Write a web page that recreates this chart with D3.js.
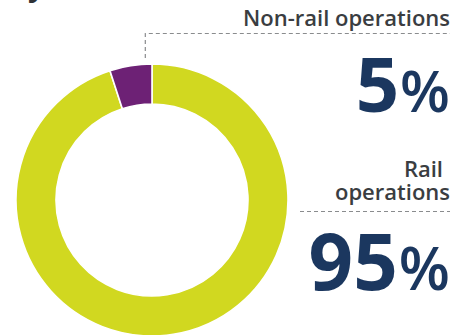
<!DOCTYPE html>
<html>
<head>
<meta charset="utf-8">
<script src="https://cdn.jsdelivr.net/npm/d3@7/dist/d3.min.js"></script>
<style>
  html, body { margin: 0; padding: 0; background: #fff; }
  svg { display: block; }
  text { font-family: "Open Sans", "Noto Sans", sans-serif; }
</style>
</head>
<body>
<svg id="chart" width="455" height="335"></svg>
<script>
// Share of activity by segment (percent)
const segments = ["Rail operations", "Non-rail operations"];
const shares = [95, 5];
const colors = ["#d1d820", "#6d2175"];
const labelLines = [["Rail", "operations"], ["Non-rail operations"]];

const W = 455, H = 335;
const svg = d3.select("#chart");

const cx = 152, cy = 200, outerR = 136, innerR = 96;

const pie = d3.pie().sort(null).value(d => d).startAngle(0).endAngle(2 * Math.PI);
const arcs = pie(shares);
const arc = d3.arc().innerRadius(innerR).outerRadius(outerR);

const g = svg.append("g").attr("transform", `translate(${cx},${cy})`);
g.selectAll("path")
  .data(arcs)
  .join("path")
  .attr("d", arc)
  .attr("fill", (d, i) => colors[i])
  .attr("stroke", "#fff")
  .attr("stroke-width", 1.6);

// Tail of the heading line above the chart
svg.append("text")
  .attr("x", 28).attr("y", -4)
  .attr("font-size", 30).attr("font-weight", 700)
  .attr("fill", "#2f3236")
  .text("y");

const rightX = 450;
const labelColor = "#3a3d41";
const numColor = "#1b375f";
const dash = "4,3";

// Non-rail: leader from the slice up to the label rule
const small = arcs[1];
const leadA = small.endAngle - 0.15 * (small.endAngle - small.startAngle);
const leadX = cx + (outerR + 6) * Math.sin(leadA);
const ruleY1 = 33.5;
svg.append("path")
  .attr("d", `M${leadX},${cy - outerR - 6}V${ruleY1}H${rightX}`)
  .attr("fill", "none")
  .attr("stroke", "#8a8c8e")
  .attr("stroke-width", 1.2)
  .attr("stroke-dasharray", dash);

const labelSize = 22;
const labelWeight = 600;
svg.append("text")
  .attr("x", rightX).attr("y", 26)
  .attr("text-anchor", "end")
  .attr("font-size", labelSize).attr("font-weight", labelWeight)
  .attr("fill", labelColor)
  .text(labelLines[1][0]);

function bigValue(v, baseline, size) {
  const t = svg.append("text")
    .attr("x", rightX).attr("y", baseline)
    .attr("text-anchor", "end")
    .attr("fill", numColor)
    .attr("font-weight", 700);
  t.append("tspan").attr("font-size", size).text(v);
  t.append("tspan").attr("font-size", size * 0.76).attr("font-weight", 600).attr("dx", 1).text("%");
}
bigValue(shares[1], 112, 76);

// Rail label (first line sits a space short of the right edge), rule and value
svg.append("text")
  .attr("x", rightX - 7).attr("y", 177)
  .attr("text-anchor", "end")
  .attr("font-size", labelSize).attr("font-weight", labelWeight)
  .attr("fill", labelColor)
  .text(labelLines[0][0]);
svg.append("text")
  .attr("x", rightX).attr("y", 200)
  .attr("text-anchor", "end")
  .attr("font-size", labelSize).attr("font-weight", labelWeight)
  .attr("fill", labelColor)
  .text(labelLines[0][1]);
svg.append("path")
  .attr("d", `M300,211.5H${rightX}`)
  .attr("stroke", "#8a8c8e")
  .attr("stroke-width", 1.2)
  .attr("stroke-dasharray", dash);

bigValue(shares[0], 290, 78);
</script>
</body>
</html>
